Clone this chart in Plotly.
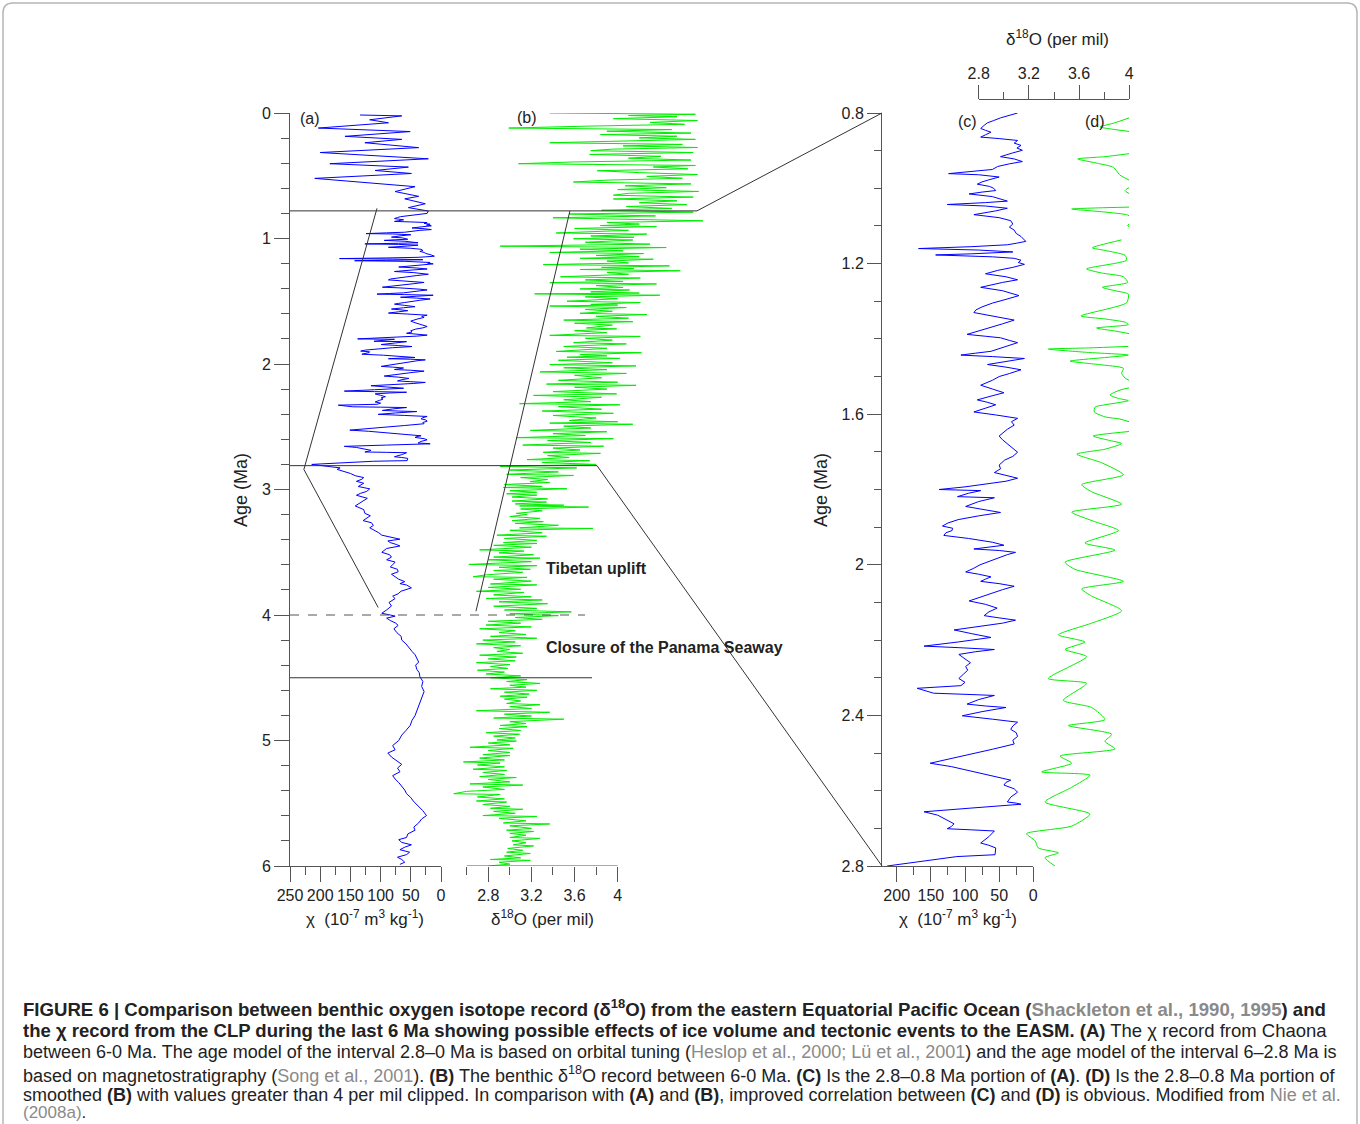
import plotly.graph_objects as go

# ---------------- DATA ----------------
# (A)/(C) magnetic susceptibility chi, 10^-7 m3 kg-1, versus age (Ma)
chi_age_young = [0.016, 0.023, 0.054, 0.078, 0.120, 0.148, 0.186, 0.210, 0.237, 0.276,
                 0.315, 0.334, 0.365, 0.404, 0.431, 0.458, 0.482, 0.521, 0.567, 0.587,
                 0.626, 0.664, 0.684, 0.723, 0.754, 0.781]
chi_young = [134, 65, 118, 87, 203, 51, 159, 65, 126, 37,
             200, 137, 21, 184, 54, 109, 49, 209, 93, 43,
             76, 37, 60, 26, 54, 21]

chi_age_mid = [0.800, 0.806, 0.813, 0.820, 0.826, 0.833, 0.841, 0.846, 0.851, 0.858,
               0.864, 0.868, 0.873, 0.880, 0.886, 0.893, 0.899, 0.906, 0.912, 0.916,
               0.922, 0.929, 0.935, 0.942, 0.950, 0.955, 0.961, 0.964, 0.970, 0.978,
               0.983, 0.989, 0.995, 1.000, 1.006, 1.010, 1.015, 1.022, 1.028, 1.034,
               1.038, 1.043, 1.047, 1.053, 1.060, 1.065, 1.070, 1.078, 1.086, 1.095,
               1.103, 1.111, 1.120, 1.128, 1.135, 1.141, 1.146, 1.150, 1.155, 1.160,
               1.164, 1.169, 1.174, 1.177, 1.182, 1.186, 1.191, 1.197, 1.202, 1.210,
               1.218, 1.227, 1.235, 1.243, 1.250, 1.256, 1.263, 1.272, 1.279, 1.285,
               1.295, 1.305, 1.315, 1.323, 1.330, 1.340, 1.350, 1.360, 1.369, 1.378,
               1.388, 1.393, 1.397, 1.404, 1.410, 1.420, 1.428, 1.433, 1.438, 1.443,
               1.447, 1.452, 1.460, 1.468, 1.475, 1.482, 1.492, 1.500, 1.510, 1.517,
               1.523, 1.533, 1.543, 1.552, 1.562, 1.568, 1.575, 1.584, 1.594, 1.602,
               1.611, 1.620, 1.629, 1.640, 1.650, 1.658, 1.668, 1.678, 1.690, 1.701,
               1.712, 1.722, 1.735, 1.745, 1.755, 1.762, 1.770, 1.778, 1.786, 1.793,
               1.800, 1.803, 1.810, 1.819, 1.822, 1.832, 1.845, 1.853, 1.861, 1.870,
               1.880, 1.889, 1.897, 1.903, 1.909, 1.915, 1.922, 1.930, 1.940, 1.948,
               1.953, 1.958, 1.962, 1.967, 1.973, 1.980, 1.990, 2.000, 2.010, 2.019,
               2.025, 2.032, 2.038, 2.044, 2.050, 2.057, 2.066, 2.077, 2.087, 2.096,
               2.105, 2.115, 2.125, 2.135, 2.141, 2.147, 2.155, 2.163, 2.173, 2.183,
               2.193, 2.205, 2.216, 2.220, 2.225, 2.231, 2.238, 2.250, 2.260, 2.270,
               2.280, 2.290, 2.302, 2.312, 2.321, 2.328, 2.335, 2.341, 2.344, 2.347,
               2.358, 2.370, 2.375, 2.379, 2.390, 2.401, 2.410, 2.418, 2.428, 2.437,
               2.446, 2.456, 2.466, 2.476, 2.490, 2.505, 2.517, 2.527, 2.536, 2.546,
               2.558, 2.572, 2.578, 2.585, 2.595, 2.604, 2.617, 2.630, 2.633, 2.636,
               2.646, 2.656, 2.665, 2.675, 2.688, 2.695, 2.701, 2.704, 2.707, 2.722,
               2.739, 2.745, 2.752, 2.770, 2.775, 2.800]
chi_mid = [23, 35, 48, 58, 67, 72, 77, 70, 62, 70,
           77, 50, 23, 28, 18, 24, 16, 30, 40, 48,
           28, 16, 35, 52, 60, 90, 124, 80, 50, 66,
           75, 82, 64, 58, 55, 75, 94, 60, 48, 38,
           70, 126, 70, 38, 55, 72, 87, 50, 33, 30,
           35, 28, 25, 18, 14, 11, 25, 38, 90, 168,
           80, 30, 90, 143, 60, 28, 18, 22, 13, 30,
           52, 70, 40, 23, 45, 60, 77, 45, 30, 21,
           40, 60, 75, 84, 87, 55, 28, 45, 62, 80,
           97, 70, 48, 35, 23, 40, 55, 62, 85, 106,
           60, 13, 40, 67, 40, 18, 35, 50, 60, 70,
           77, 60, 43, 62, 82, 68, 55, 70, 87, 55,
           23, 32, 28, 38, 45, 50, 45, 38, 30, 23,
           30, 42, 50, 48, 57, 40, 23, 40, 70, 100,
           138, 77, 95, 111, 57, 80, 99, 70, 48, 80,
           110, 125, 133, 118, 119, 128, 131, 95, 60, 43,
           65, 87, 50, 26, 38, 48, 65, 78, 88, 99,
           80, 62, 70, 77, 50, 28, 45, 62, 78, 94,
           70, 53, 65, 72, 50, 26, 45, 80, 116, 90,
           62, 110, 160, 110, 57, 85, 109, 100, 92, 99,
           96, 102, 109, 100, 106, 170, 155, 146, 100, 57,
           80, 97, 70, 40, 75, 104, 60, 23, 30, 33,
           25, 23, 30, 28, 60, 95, 125, 151, 120, 97,
           65, 33, 40, 43, 28, 23, 33, 38, 25, 18,
           90, 160, 140, 130, 116, 120, 126, 90, 57, 65,
           77, 65, 55, 56, 112, 214]

chi_age_old = [2.813, 2.820, 2.828, 2.840, 2.859, 2.872, 2.890, 2.905, 2.918, 2.935,
               2.950, 2.976, 2.995, 3.015, 3.030, 3.046, 3.070, 3.092, 3.110, 3.131,
               3.160, 3.190, 3.209, 3.230, 3.248, 3.265, 3.287, 3.305, 3.326, 3.345,
               3.364, 3.374, 3.384, 3.396, 3.410, 3.423, 3.438, 3.450, 3.470, 3.500,
               3.520, 3.539, 3.560, 3.578, 3.600, 3.617, 3.636, 3.656, 3.675, 3.695,
               3.715, 3.734, 3.750, 3.761, 3.784, 3.810, 3.831, 3.850, 3.869, 3.900,
               3.928, 3.960, 3.986, 4.000, 4.009, 4.025, 4.044, 4.065, 4.083, 4.110,
               4.141, 4.170, 4.200, 4.230, 4.258, 4.290, 4.316, 4.345, 4.375, 4.400,
               4.433, 4.460, 4.491, 4.530, 4.569, 4.610, 4.647, 4.690, 4.724, 4.760,
               4.802, 4.840, 4.880, 4.920, 4.957, 5.000, 5.040, 5.074, 5.100, 5.132,
               5.160, 5.190, 5.220, 5.249, 5.280, 5.307, 5.335, 5.365, 5.395, 5.424,
               5.455, 5.482, 5.500, 5.521, 5.560, 5.598, 5.625, 5.657, 5.690, 5.715,
               5.745, 5.773, 5.790, 5.812, 5.831, 5.850, 5.870, 5.890, 5.909, 5.930,
               5.948, 5.970, 5.987]
chi_old = [192, 180, 167, 172, 156, 150, 142, 128, 131, 140,
           128, 137, 118, 123, 133, 140, 122, 129, 135, 142,
           128, 126, 117, 124, 129, 115, 112, 118, 109, 103,
           98, 90, 82, 68, 88, 84, 74, 68, 90, 98,
           85, 82, 90, 76, 80, 84, 72, 71, 82, 76,
           70, 60, 68, 57, 49, 66, 71, 80, 76, 86,
           82, 90, 98, 84, 76, 90, 84, 75, 71, 78,
           73, 66, 65, 58, 54, 48, 43, 40, 37, 42,
           40, 36, 35, 30, 32, 28, 31, 34, 37, 40,
           43, 48, 51, 58, 65, 70, 80, 76, 88, 82,
           74, 65, 72, 68, 80, 76, 70, 65, 60, 57,
           50, 46, 42, 37, 30, 24, 32, 37, 45, 43,
           55, 57, 70, 65, 49, 60, 68, 52, 57, 72,
           65, 60, 68]

# (B) benthic d18O (per mil) versus age (Ma)
d18o_age_1 = [0.000, 0.010, 0.020, 0.030, 0.045, 0.060, 0.075, 0.090, 0.105, 0.120,
              0.132, 0.145, 0.160, 0.172, 0.185, 0.198, 0.210, 0.225, 0.237, 0.250,
              0.262, 0.275, 0.288, 0.300, 0.315, 0.330, 0.345, 0.360, 0.375, 0.390,
              0.404, 0.418, 0.430, 0.445, 0.460, 0.475, 0.490, 0.505, 0.520, 0.535,
              0.550, 0.565, 0.580, 0.595, 0.610, 0.625, 0.640, 0.655, 0.670, 0.685,
              0.700, 0.715, 0.730, 0.745, 0.760, 0.775, 0.790]
d18o_1 = [3.37, 4.72, 4.10, 4.55, 3.96, 4.74, 4.30, 4.62, 3.70, 2.99,
          4.50, 3.90, 4.68, 3.84, 4.55, 4.20, 4.72, 3.80, 3.37, 4.60,
          4.05, 4.74, 3.95, 3.75, 4.70, 3.74, 4.40, 4.10, 4.68, 3.60,
          3.08, 4.72, 4.33, 4.65, 3.81, 4.20, 4.74, 4.27, 4.60, 3.90,
          3.59, 4.68, 4.07, 4.45, 4.00, 4.75, 4.10, 3.96, 4.70, 3.96,
          4.55, 4.20, 4.64, 4.08, 4.50, 3.85, 4.70]

d18o_age_2 = [0.805, 0.820, 0.835, 0.859, 0.872, 0.885, 0.897, 0.905, 0.920, 0.935,
              0.956, 0.965, 0.980, 0.990, 1.002, 1.012, 1.030, 1.045, 1.061, 1.072,
              1.085, 1.098, 1.111, 1.120, 1.135, 1.145, 1.158, 1.165, 1.180, 1.195,
              1.208, 1.218, 1.230, 1.240, 1.247, 1.257, 1.270, 1.285, 1.305, 1.315,
              1.330, 1.342, 1.352, 1.362, 1.375, 1.390, 1.402, 1.410, 1.425, 1.435,
              1.441, 1.452, 1.465, 1.480, 1.500, 1.510, 1.525, 1.530, 1.538, 1.550,
              1.565, 1.580, 1.596, 1.606, 1.620, 1.635, 1.650, 1.663, 1.675, 1.690,
              1.713, 1.720, 1.735, 1.750, 1.772, 1.780, 1.795, 1.810, 1.830, 1.840,
              1.860, 1.875, 1.900, 1.910, 1.925, 1.935, 1.946, 1.955, 1.970, 1.990,
              2.005, 2.015, 2.030, 2.045, 2.063, 2.075, 2.090, 2.110, 2.130, 2.145,
              2.160, 2.170, 2.185, 2.200, 2.220, 2.238, 2.250, 2.265, 2.285, 2.300,
              2.316, 2.325, 2.340, 2.360, 2.375, 2.393, 2.410, 2.430, 2.450, 2.460,
              2.471, 2.480, 2.495, 2.510, 2.529, 2.540, 2.555, 2.570, 2.587, 2.595,
              2.610, 2.625, 2.646, 2.655, 2.670, 2.685, 2.704, 2.712, 2.730, 2.745,
              2.762, 2.770, 2.785, 2.800]
d18o_2 = [3.55, 4.35, 3.40, 4.79, 3.90, 4.20, 3.84, 4.36, 3.60, 4.10,
          3.43, 4.27, 3.75, 4.15, 3.59, 4.14, 3.70, 4.30, 2.91, 4.45,
          3.65, 4.05, 3.37, 4.24, 3.80, 4.20, 3.65, 4.33, 3.90, 4.10,
          3.31, 4.48, 3.85, 4.15, 3.65, 4.58, 3.90, 4.10, 3.47, 4.21,
          3.70, 4.05, 3.37, 4.36, 3.80, 4.05, 3.65, 4.11, 3.75, 4.20,
          3.23, 4.39, 3.70, 4.00, 3.53, 4.21, 3.75, 4.00, 3.37, 4.08,
          3.70, 3.95, 3.65, 4.27, 3.80, 4.10, 3.50, 4.14, 3.60, 3.95,
          3.71, 3.99, 3.60, 3.90, 3.37, 4.21, 3.70, 3.95, 3.59, 4.08,
          3.50, 3.90, 3.43, 4.22, 3.65, 3.90, 3.53, 4.02, 3.45, 3.95,
          3.37, 4.17, 3.50, 3.90, 3.28, 4.08, 3.60, 3.85, 3.45, 4.00,
          3.34, 4.17, 3.60, 3.90, 3.40, 3.99, 3.22, 3.85, 3.50, 3.75,
          3.09, 4.02, 3.45, 3.85, 3.30, 3.96, 3.40, 3.80, 3.55, 4.00,
          3.37, 4.14, 3.50, 3.75, 3.19, 3.90, 3.40, 3.70, 3.06, 3.96,
          3.35, 3.75, 3.12, 3.87, 3.40, 3.65, 3.31, 3.84, 3.35, 3.55,
          3.16, 3.74, 3.30, 3.80]

d18o_age_3 = [2.815, 2.828, 2.845, 2.860, 2.879, 2.888, 2.905, 2.920, 2.937, 2.945,
              2.960, 2.975, 2.984, 2.994, 3.010, 3.022, 3.034, 3.045, 3.060, 3.075,
              3.092, 3.100, 3.115, 3.125, 3.131, 3.140, 3.155, 3.170, 3.190, 3.200,
              3.215, 3.230, 3.248, 3.256, 3.270, 3.285, 3.306, 3.310, 3.325, 3.345,
              3.364, 3.372, 3.390, 3.405, 3.423, 3.430, 3.445, 3.460, 3.481, 3.490,
              3.505, 3.520, 3.539, 3.547, 3.560, 3.575, 3.597, 3.607, 3.620, 3.636,
              3.645, 3.660, 3.680, 3.695, 3.700, 3.715, 3.730, 3.753, 3.760, 3.780,
              3.795, 3.811, 3.820, 3.840, 3.855, 3.869, 3.880, 3.895, 3.910, 3.930,
              3.947, 3.960, 3.975, 3.990, 4.005]
d18o_3 = [2.91, 3.62, 3.00, 3.45, 2.97, 3.59, 3.10, 3.35, 3.19, 3.37,
          2.95, 3.30, 2.94, 3.53, 3.00, 3.25, 2.97, 3.25, 3.02, 3.35,
          3.02, 3.34, 3.05, 3.50, 3.09, 3.73, 3.10, 3.30, 3.06, 3.16,
          3.00, 3.28, 3.02, 3.31, 3.05, 3.45, 3.09, 3.77, 3.00, 3.30,
          2.88, 3.34, 2.95, 3.25, 2.94, 3.25, 2.85, 3.20, 2.72, 3.13,
          2.90, 3.22, 2.85, 3.28, 2.80, 3.20, 2.62, 3.25, 2.90, 3.19,
          2.85, 3.12, 2.78, 2.66, 3.16, 2.85, 3.20, 2.82, 3.25, 2.80,
          3.10, 2.69, 3.13, 2.85, 3.20, 2.78, 3.30, 2.90, 3.35, 2.85,
          3.25, 2.95, 3.57, 3.00, 3.45]

d18o_age_4 = [4.020, 4.035, 4.050, 4.065, 4.080, 4.095, 4.110, 4.125, 4.140, 4.155,
              4.170, 4.185, 4.200, 4.215, 4.230, 4.245, 4.260, 4.275, 4.290, 4.305,
              4.320, 4.335, 4.350, 4.365, 4.380, 4.395, 4.410, 4.425, 4.440, 4.455,
              4.470, 4.485, 4.500, 4.515, 4.530, 4.545, 4.560, 4.575, 4.588, 4.600,
              4.615, 4.630, 4.647, 4.655, 4.670, 4.685, 4.705, 4.715, 4.730, 4.745,
              4.763, 4.775, 4.790, 4.805, 4.821, 4.830, 4.850, 4.865, 4.880, 4.890,
              4.905, 4.920, 4.938, 4.950, 4.965, 4.980, 4.996, 5.005, 5.020, 5.035,
              5.054, 5.062, 5.080, 5.095, 5.113, 5.120, 5.140, 5.155, 5.171, 5.180,
              5.195, 5.210, 5.229, 5.238, 5.255, 5.270, 5.288, 5.295, 5.310, 5.330,
              5.346, 5.355, 5.370, 5.390, 5.405, 5.424, 5.430, 5.450, 5.465, 5.482,
              5.490, 5.510, 5.525, 5.540, 5.548, 5.565, 5.580, 5.598, 5.605, 5.620,
              5.640, 5.657, 5.665, 5.680, 5.700, 5.715, 5.725, 5.740, 5.755, 5.773,
              5.780, 5.800, 5.815, 5.831, 5.840, 5.860, 5.875, 5.890, 5.900, 5.920,
              5.935, 5.948, 5.955, 5.970, 5.985, 6.000]
d18o_4 = [3.05, 3.30, 2.80, 3.10, 2.78, 3.20, 2.72, 3.05, 2.90, 3.15,
          2.82, 3.25, 2.75, 3.05, 2.69, 3.10, 2.85, 3.00, 2.88, 3.12,
          2.72, 3.06, 2.80, 3.05, 2.69, 3.00, 2.82, 2.98, 2.70, 2.95,
          2.78, 3.10, 2.82, 3.16, 2.97, 3.28, 3.00, 3.15, 2.82, 3.25,
          2.95, 3.18, 2.91, 3.16, 2.95, 3.10, 2.97, 3.28, 3.00, 3.20,
          2.69, 3.37, 2.95, 3.20, 2.85, 3.50, 3.00, 3.15, 2.91, 3.16,
          2.90, 3.10, 2.78, 3.09, 2.85, 3.05, 2.88, 3.06, 2.80, 3.00,
          2.63, 3.03, 2.80, 3.00, 2.75, 3.00, 2.72, 2.95, 2.57, 2.91,
          2.70, 2.95, 2.66, 2.97, 2.75, 2.95, 2.72, 3.06, 2.80, 3.00,
          2.63, 3.12, 2.75, 2.95, 2.60, 2.48, 2.91, 2.70, 2.95, 2.69,
          2.97, 2.75, 3.00, 2.82, 3.12, 2.85, 3.05, 2.75, 3.25, 2.90,
          3.15, 2.94, 3.37, 3.00, 3.20, 2.97, 3.22, 3.00, 3.15, 3.00,
          3.28, 3.02, 3.15, 3.03, 3.22, 2.98, 3.12, 2.97, 3.19, 2.95,
          3.10, 2.82, 3.19, 2.90, 3.00, 2.80]

# (D) smoothed d18O, 2.8-0.8 Ma, values above 4 per mil clipped (None = clipped gap)
d18o_smooth_age = [0.813, 0.826, 0.837, 0.844, 0.849, None,
                   0.908, 0.916, 0.922, 0.934, 0.944, 0.954, 0.965, 0.978, None,
                   0.998, 1.006, 1.014, None,
                   1.050, 1.052, 1.055, 1.063, 1.070, 1.073, None,
                   1.095, 1.099, 1.102, None,
                   1.137, 1.158, 1.165, 1.178, 1.191, 1.214, 1.225, 1.235, 1.250, 1.263,
                   1.272, 1.281, 1.304, 1.339, 1.347, 1.356, 1.362, 1.371, 1.379, 1.386, None,
                   1.420, 1.424, 1.427, 1.436, 1.443, 1.459, 1.468, 1.478, 1.491, 1.504, 1.510, None,
                   1.530, 1.536, 1.549, 1.558, 1.564, 1.575, 1.581, 1.594, 1.607, 1.613, 1.620, None,
                   1.646, 1.658, 1.669, 1.678, 1.693, 1.706, 1.729, 1.761, 1.787, 1.806,
                   1.839, 1.860, 1.884, 1.909, 1.942, 1.961, 1.993, 2.012, 2.044, 2.064,
                   2.083, 2.122, 2.155, 2.186, 2.205, 2.225, 2.244, 2.302, 2.315, 2.360,
                   2.379, 2.411, 2.427, 2.450, 2.469, 2.489, 2.508, 2.527, 2.550, 2.559,
                   2.591, 2.630, 2.662, 2.694, 2.714, 2.733, 2.752, 2.765, 2.778, 2.800]
d18o_smooth = [3.998, 3.886, 3.767, 3.886, 3.998, None,
               3.998, 3.806, 3.589, 3.753, 3.873, 3.899, 3.926, 3.998, None,
               3.998, 3.966, 3.998, None,
               3.998, 3.753, 3.541, 3.806, 3.979, 3.998, None,
               3.998, 3.987, 3.998, None,
               3.939, 3.706, 3.806, 3.966, 3.979, 3.660, 3.780, 3.953, 3.987, 3.785,
               3.886, 3.992, 3.979, 3.615, 3.806, 3.971, 3.992, 3.740, 3.886, 3.998, None,
               3.992, 3.674, 3.355, 3.674, 3.992, 3.528, 3.753, 3.953, 3.939, 3.966, 3.998, None,
               3.998, 3.926, 3.846, 3.913, 3.992, 3.806, 3.727, 3.721, 3.806, 3.926, 3.998, None,
               3.998, 3.713, 3.833, 3.939, 3.806, 3.581, 3.780, 3.953, 3.621, 3.700,
               3.939, 3.541, 3.713, 3.913, 3.647, 3.886, 3.488, 3.567, 3.953, 3.621,
               3.700, 3.939, 3.700, 3.435, 3.647, 3.488, 3.660, 3.355, 3.660, 3.474,
               3.700, 3.806, 3.514, 3.860, 3.806, 3.886, 3.448, 3.541, 3.302, 3.687,
               3.541, 3.328, 3.687, 3.541, 3.182, 3.249, 3.275, 3.435, 3.328, 3.408]

# tick definitions
age_ticks_ab = [0, 1, 2, 3, 4, 5, 6]
age_minor_ab = [0.2, 0.4, 0.6, 0.8, 1.2, 1.4, 1.6, 1.8, 2.2, 2.4, 2.6, 2.8, 3.2, 3.4, 3.6, 3.8,
                4.2, 4.4, 4.6, 4.8, 5.2, 5.4, 5.6, 5.8]
age_ticks_cd = [0.8, 1.2, 1.6, 2.0, 2.4, 2.8]
age_ticktext_cd = ["0.8", "1.2", "1.6", "2", "2.4", "2.8"]
age_minor_cd = [0.9, 1.0, 1.1, 1.3, 1.4, 1.5, 1.7, 1.8, 1.9, 2.1, 2.2, 2.3, 2.5, 2.6, 2.7]
chi_ticks_a = [0, 50, 100, 150, 200, 250]
chi_minor_a = [25, 75, 125, 175, 225]
chi_ticks_c = [0, 50, 100, 150, 200]
chi_minor_c = [25, 75, 125, 175]
d18o_ticks = [2.8, 3.2, 3.6, 4.0]
d18o_ticktext = ["2.8", "3.2", "3.6", "4"]
d18o_minor_b = [2.6, 3.0, 3.4, 3.8]
d18o_minor_d = [3.0, 3.4, 3.8]

# ---------------- LAYOUT GEOMETRY (pixels) ----------------
W, H = 1360, 1124
def fx(p):
    return p / W
def fy(p):
    return 1 - p / H

Y_TOP, Y_BOT = 113, 866
A_X0, A_X1 = 290, 441
B_AX0, B_AX1 = 466.7, 617.7        # 2.6 .. 4.0 axis line
B_D0, B_D1 = 440, 712              # drawing area for (b)
C_X0, C_X1 = 882, 1033.3
D_X0, D_X1 = 978.7, 1129.3
D_AXIS_Y = 99.3

b_pp = (B_AX1 - B_AX0) / 1.4
b_range = [2.6 - (B_AX0 - B_D0) / b_pp, 4.0 + (B_D1 - B_AX1) / b_pp]
c_pp = (C_X1 - 896.7) / 200.0
c_range = [200 + (896.7 - C_X0) / c_pp, 0]

def age_ab(a):
    return fy(Y_TOP + a / 6.0 * (Y_BOT - Y_TOP))
def age_cd(a):
    return fy(Y_TOP + (a - 0.8) / 2.0 * (Y_BOT - Y_TOP))

FONT = "Arial, Liberation Sans, Helvetica, sans-serif"
AX_COL = "#555555"
TXT = "#222222"
BLUE = "#0000ff"
GREEN = "#00ee00"

fig = go.Figure()

chi_age_all = chi_age_young + chi_age_mid + chi_age_old
chi_all = chi_young + chi_mid + chi_old
d18o_age_all = d18o_age_1 + d18o_age_2 + d18o_age_3 + d18o_age_4
d18o_all = d18o_1 + d18o_2 + d18o_3 + d18o_4

fig.add_trace(go.Scatter(x=chi_all, y=chi_age_all, mode="lines",
                         line=dict(color=BLUE, width=1), xaxis="x", yaxis="y",
                         showlegend=False, hoverinfo="skip"))
fig.add_trace(go.Scatter(x=d18o_all, y=d18o_age_all, mode="lines",
                         line=dict(color=GREEN, width=1), xaxis="x2", yaxis="y",
                         showlegend=False, hoverinfo="skip"))
fig.add_trace(go.Scatter(x=chi_mid, y=chi_age_mid, mode="lines",
                         line=dict(color=BLUE, width=1), xaxis="x3", yaxis="y2",
                         showlegend=False, hoverinfo="skip"))
fig.add_trace(go.Scatter(x=d18o_smooth, y=d18o_smooth_age, mode="lines",
                         line=dict(color=GREEN, width=1, shape="spline", smoothing=0.6),
                         connectgaps=False, xaxis="x4", yaxis="y2",
                         showlegend=False, hoverinfo="skip"))

tickfont = dict(family=FONT, size=16, color=TXT)
common = dict(showgrid=False, zeroline=False, ticks="outside", tickcolor=AX_COL,
              tickwidth=1, ticklen=15, tickfont=tickfont, linecolor=AX_COL,
              linewidth=1, automargin=False, tickmode="array")
def minor(vals):
    return dict(tickmode="array", tickvals=vals, ticks="outside", ticklen=8,
                tickcolor=AX_COL, tickwidth=1, showgrid=False)

fig.update_layout(
    width=W, height=H, autosize=False,
    margin=dict(l=0, r=0, t=0, b=0),
    paper_bgcolor="white", plot_bgcolor="rgba(0,0,0,0)",
    font=dict(family=FONT, color=TXT),
    xaxis=dict(domain=[fx(A_X0), fx(A_X1)], range=[250, 0], anchor="y",
               showline=True, tickvals=chi_ticks_a, minor=minor(chi_minor_a), **common),
    yaxis=dict(domain=[fy(Y_BOT), fy(Y_TOP)], range=[6, 0], anchor="x",
               showline=True, tickvals=age_ticks_ab, minor=minor(age_minor_ab), **common),
    xaxis2=dict(domain=[fx(B_D0), fx(B_D1)], range=b_range, anchor="y",
                showline=False, tickvals=d18o_ticks, ticktext=d18o_ticktext,
                minor=minor(d18o_minor_b), **common),
    xaxis3=dict(domain=[fx(C_X0), fx(C_X1)], range=c_range, anchor="y2",
                showline=True, tickvals=chi_ticks_c, minor=minor(chi_minor_c), **common),
    yaxis2=dict(domain=[fy(Y_BOT), fy(Y_TOP)], range=[2.8, 0.8], anchor="x3",
                showline=True, tickvals=age_ticks_cd, ticktext=age_ticktext_cd,
                minor=dict(minor(age_minor_cd), ticklen=7), **dict(common, ticklen=14)),
    xaxis4=dict(domain=[fx(D_X0), fx(D_X1)], range=[2.8, 4.0], anchor="free",
                position=fy(D_AXIS_Y), side="top", showline=True,
                tickvals=d18o_ticks, ticktext=d18o_ticktext,
                minor=dict(minor(d18o_minor_d), ticklen=7), **dict(common, ticklen=14)),
)

LINE = dict(color="#333333", width=1)
shapes = []
# axis line of panel (b)
shapes.append(dict(type="line", xref="x2", yref="y", x0=2.6, x1=4.0, y0=6, y1=6,
                   line=dict(color=AX_COL, width=1)))
# horizontal correlation lines
shapes.append(dict(type="line", xref="paper", yref="paper", x0=fx(A_X0), x1=fx(697),
                   y0=age_ab(0.78), y1=age_ab(0.78), line=LINE))
shapes.append(dict(type="line", xref="paper", yref="paper", x0=fx(697), x1=fx(C_X0),
                   y0=age_ab(0.78), y1=age_cd(0.8), line=LINE))
shapes.append(dict(type="line", xref="paper", yref="paper", x0=fx(A_X0), x1=fx(597),
                   y0=age_ab(2.81), y1=age_ab(2.81), line=LINE))
shapes.append(dict(type="line", xref="paper", yref="paper", x0=fx(597), x1=fx(C_X0),
                   y0=age_ab(2.81), y1=age_cd(2.8), line=LINE))
shapes.append(dict(type="line", xref="paper", yref="paper", x0=fx(A_X0), x1=fx(585),
                   y0=age_ab(4.0), y1=age_ab(4.0),
                   line=dict(color="#555555", width=1, dash="dash")))
shapes.append(dict(type="line", xref="paper", yref="paper", x0=fx(A_X0), x1=fx(592),
                   y0=age_ab(4.5), y1=age_ab(4.5), line=LINE))
# slanted trend lines in (a) and (b)
shapes.append(dict(type="line", xref="x", yref="y", x0=106, y0=0.76, x1=227, y1=2.84, line=LINE))
shapes.append(dict(type="line", xref="x", yref="y", x0=227, y0=2.84, x1=104, y1=3.94, line=LINE))
shapes.append(dict(type="line", xref="x2", yref="y", x0=3.557, y0=0.78, x1=2.686, y1=3.97, line=LINE))

# outer frame (rounded rectangle)
r = 10
x0p, x1p, y0p, y1p = 3, 1357, 3, 1140
path = (f"M {fx(x0p + r)} {fy(y0p)} L {fx(x1p - r)} {fy(y0p)} "
        f"Q {fx(x1p)} {fy(y0p)} {fx(x1p)} {fy(y0p + r)} "
        f"L {fx(x1p)} {fy(y1p - r)} Q {fx(x1p)} {fy(y1p)} {fx(x1p - r)} {fy(y1p)} "
        f"L {fx(x0p + r)} {fy(y1p)} Q {fx(x0p)} {fy(y1p)} {fx(x0p)} {fy(y1p - r)} "
        f"L {fx(x0p)} {fy(y0p + r)} Q {fx(x0p)} {fy(y0p)} {fx(x0p + r)} {fy(y0p)} Z")
shapes.append(dict(type="path", xref="paper", yref="paper", path=path,
                   line=dict(color="#b5b5b5", width=1.5), fillcolor="rgba(0,0,0,0)"))
fig.update_layout(shapes=shapes)

ann = []
def text(x, y, s, size=16, xanchor="center", yanchor="middle", angle=0, color=TXT):
    ann.append(dict(x=fx(x), y=fy(y), xref="paper", yref="paper", text=s, showarrow=False,
                    xanchor=xanchor, yanchor=yanchor, textangle=angle,
                    font=dict(family=FONT, size=size, color=color)))

# panel labels
text(310, 118, "(a)")
text(527, 117, "(b)")
text(967, 121, "(c)")
text(1095, 121, "(d)")
# axis titles
text(241, 490, "Age (Ma)", size=18, angle=-90)
text(821, 490, "Age (Ma)", size=18, angle=-90)
chi_title = "χ  (10<sup>-7</sup> m<sup>3</sup> kg<sup>-1</sup>)"
text(365, 918, chi_title, size=17)
text(958, 918, chi_title, size=17)
text(542, 918, "δ<sup>18</sup>O (per mil)", size=17)
text(1057, 38, "δ<sup>18</sup>O (per mil)", size=17)
# event annotations
text(544, 568, "<b>Tibetan uplift</b>", size=16, xanchor="left")
text(544, 647, "<b>Closure of the Panama Seaway</b>", size=16, xanchor="left")

# caption
G = "#8a8a8a"
def cite(s):
    return f"<span style='color:{G}'>{s}</span>"
cap = [
    "<b>FIGURE 6 | Comparison between benthic oxygen isotope record (δ<sup>18</sup>O) from the eastern Equatorial Pacific Ocean ("
    + cite("Shackleton et al., 1990, 1995") + ") and</b>",
    "<b>the χ record from the CLP during the last 6 Ma showing possible effects of ice volume and tectonic events to the EASM. (A)</b> The χ record from Chaona",
    "between 6-0 Ma. The age model of the interval 2.8–0 Ma is based on orbital tuning (" + cite("Heslop et al., 2000; Lü et al., 2001")
    + ") and the age model of the interval 6–2.8 Ma is",
    "based on magnetostratigraphy (" + cite("Song et al., 2001") + "). <b>(B)</b> The benthic δ<sup>18</sup>O record between 6-0 Ma. <b>(C)</b> Is the 2.8–0.8 Ma portion of <b>(A)</b>. <b>(D)</b> Is the 2.8–0.8 Ma portion of",
    "smoothed <b>(B)</b> with values greater than 4 per mil clipped. In comparison with <b>(A)</b> and <b>(B)</b>, improved correlation between <b>(C)</b> and <b>(D)</b> is obvious. Modified from "
    + cite("Nie et al."),
    cite("(2008a)") + ".",
]
cap_y = [1008, 1030, 1052, 1074, 1095, 1112]
cap_size = [18.6, 18.5, 18.0, 18.0, 18.0, 17.0]
for s, yy, sz in zip(cap, cap_y, cap_size):
    text(21, yy, s, size=sz, xanchor="left")

fig.update_layout(annotations=ann)

fig.write_html("out.html", config={"displayModeBar": False},
               post_script="document.body.style.margin='0';document.body.style.overflow='hidden';")
